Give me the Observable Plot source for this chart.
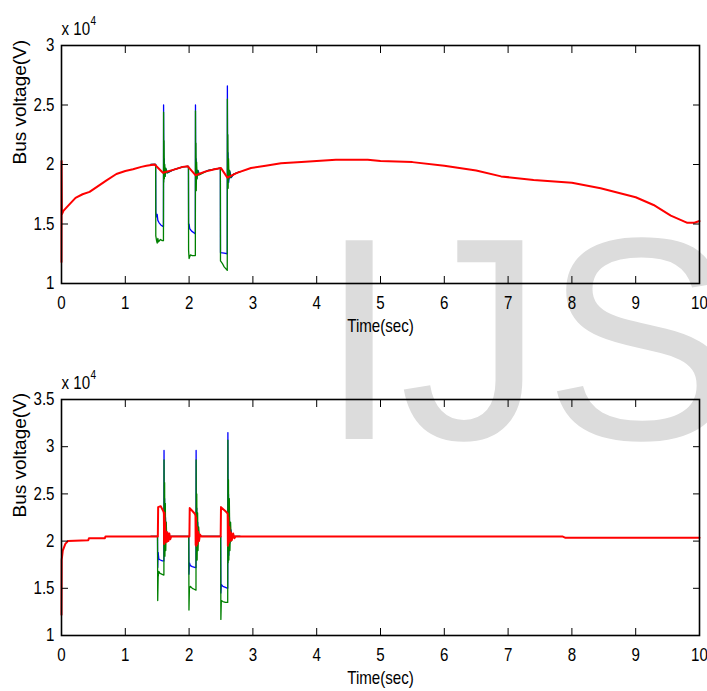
<!DOCTYPE html>
<html><head><meta charset="utf-8">
<script src="https://cdn.jsdelivr.net/npm/d3@7"></script>
<script src="https://cdn.jsdelivr.net/npm/@observablehq/plot@0.6"></script>
<style>
html,body{margin:0;padding:0;background:#fff;}
#page{position:relative;width:707px;height:691px;overflow:hidden;}
#wm{position:absolute;left:319px;top:194px;font-family:"Liberation Sans",Arial,sans-serif;font-size:289px;line-height:1;color:#dcdcdc;white-space:nowrap;z-index:0;}
#charts{position:relative;z-index:1;}
#charts svg{display:block;}
</style></head><body>
<div id="page"><div id="wm">IJS</div><div id="charts"></div></div>
<script>
// ---- tick labels ----
const xTicks = [0,1,2,3,4,5,6,7,8,9,10];
const topYTicks = [1,1.5,2,2.5,3];
const botYTicks = [1,1.5,2,2.5,3,3.5];
const xLabel = "Time(sec)";
const yLabel = "Bus voltage(V)";
const expBase = "x 10", expPow = "4";

// ---- top panel (values in units of 10^4 V) ----
const topRedT = [0,0.001,0.006,0.03,0.08,0.15,0.22,0.33,0.44,0.55,0.7,0.86,1.0,1.12,1.25,1.33,1.46,1.59,1.75,1.9,1.98,2.10,2.25,2.40,2.50,2.60,2.75,2.97,3.2,3.44,3.76,4.0,4.3,4.8,5.0,5.5,6.0,6.5,6.89,7.4,8.0,8.45,9.0,9.28,9.55,9.81,9.92,10];
const topRedV = [1.18,2.03,1.58,1.61,1.64,1.68,1.72,1.75,1.77,1.81,1.865,1.92,1.945,1.96,1.98,1.99,2.0,1.93,1.955,1.98,1.985,1.91,1.94,1.96,1.97,1.89,1.93,1.97,1.99,2.01,2.02,2.03,2.04,2.04,2.03,2.02,1.99,1.95,1.90,1.87,1.846,1.80,1.725,1.66,1.57,1.51,1.51,1.525];
const topBlueT = [1.40,1.476,1.478,1.49,1.50,1.51,1.53,1.56,1.59,1.598,1.600,1.604,1.61,1.62,1.64,1.66,1.75,1.9,1.97,1.99,1.992,2.00,2.01,2.04,2.09,2.098,2.100,2.104,2.11,2.12,2.14,2.16,2.3,2.49,2.492,2.55,2.598,2.600,2.604,2.61,2.62,2.64,2.66,2.7,2.8];
const topBlueV = [2.00,2.00,1.60,1.56,1.58,1.53,1.51,1.49,1.48,1.48,2.50,1.95,2.05,1.90,1.96,1.93,1.955,1.98,1.985,1.985,1.49,1.50,1.46,1.44,1.42,1.42,2.50,1.90,2.05,1.88,1.95,1.92,1.95,1.97,1.26,1.255,1.25,2.66,1.95,2.10,1.85,1.94,1.89,1.92,1.94];
const topGreenT = [1.40,1.476,1.478,1.49,1.50,1.51,1.52,1.55,1.58,1.598,1.600,1.603,1.607,1.612,1.618,1.625,1.635,1.65,1.75,1.9,1.99,1.992,2.00,2.02,2.05,2.098,2.100,2.103,2.107,2.112,2.118,2.125,2.135,2.15,2.3,2.49,2.492,2.52,2.55,2.598,2.600,2.603,2.607,2.612,2.618,2.625,2.635,2.65,2.7,2.8];
const topGreenV = [2.00,2.00,1.40,1.36,1.34,1.38,1.35,1.37,1.36,1.36,2.44,1.85,2.20,1.88,2.0,1.90,1.97,1.93,1.955,1.98,1.985,1.28,1.21,1.24,1.235,1.235,2.45,1.80,2.18,1.78,2.02,1.88,1.95,1.91,1.95,1.97,1.19,1.17,1.14,1.11,2.55,1.85,2.25,1.80,2.05,1.88,1.95,1.89,1.92,1.94];

// ---- bottom panel ----
const botRedT = [0,0.003,0.02,0.06,0.1,0.42,0.43,0.68,0.69,1.51,1.515,1.555,1.60,1.605,1.608,1.613,1.618,1.624,1.63,1.64,1.65,1.66,1.675,1.69,1.705,1.72,2.005,2.01,2.09,2.10,2.103,2.108,2.113,2.12,2.13,2.14,2.155,2.17,2.19,2.495,2.50,2.58,2.605,2.608,2.613,2.62,2.63,2.64,2.655,2.67,2.69,2.71,2.73,7.85,7.9,10];
const botRedV = [1.22,1.80,1.90,1.97,2.0,2.01,2.03,2.03,2.05,2.05,2.36,2.37,2.31,2.29,1.97,2.30,1.98,2.20,2.0,2.10,1.99,2.09,2.0,2.08,2.02,2.05,2.05,2.35,2.29,2.27,1.96,2.25,1.95,2.15,1.97,2.10,2.0,2.07,2.05,2.05,2.36,2.31,2.29,1.95,2.25,1.98,2.15,2.0,2.09,2.01,2.08,2.03,2.05,2.05,2.035,2.035];
const botBlueT = [1.40,1.505,1.508,1.515,1.525,1.55,1.58,1.605,1.607,1.611,1.616,1.622,1.63,1.64,1.65,1.66,1.995,1.998,2.005,2.02,2.05,2.10,2.108,2.11,2.114,2.12,2.126,2.135,2.145,2.16,2.495,2.498,2.505,2.53,2.57,2.605,2.608,2.612,2.617,2.623,2.63,2.64,2.655,2.67,2.8];
const botBlueV = [2.05,2.05,1.72,1.88,1.81,1.80,1.79,1.79,2.96,2.00,2.45,1.95,2.25,2.0,2.10,2.05,2.05,1.65,1.77,1.74,1.73,1.72,1.72,2.96,1.95,2.35,1.90,2.20,2.0,2.05,2.05,1.45,1.54,1.52,1.51,1.50,3.15,1.95,2.50,1.85,2.30,1.98,2.12,2.05,2.05];
const botGreenT = [1.40,1.505,1.508,1.515,1.525,1.54,1.57,1.605,1.607,1.611,1.616,1.621,1.627,1.634,1.642,1.65,1.66,1.995,1.998,2.005,2.02,2.05,2.08,2.108,2.11,2.114,2.12,2.126,2.133,2.14,2.15,2.16,2.495,2.498,2.505,2.53,2.57,2.605,2.608,2.612,2.617,2.623,2.63,2.64,2.65,2.66,2.67,2.8];
const botGreenV = [2.05,2.05,1.37,1.62,1.68,1.66,1.65,1.64,2.86,1.85,2.62,1.84,2.40,1.90,2.20,2.0,2.05,2.05,1.27,1.50,1.52,1.50,1.49,1.48,2.86,1.80,2.50,1.80,2.30,1.90,2.15,2.05,2.05,1.17,1.37,1.36,1.35,1.35,3.07,1.77,2.65,1.80,2.45,1.90,2.20,2.0,2.05,2.05];

const FONT = '"Liberation Sans",Arial,sans-serif';
const fmt = d => String(d);

function panel({yDomain, yTicks, red, blue, green, height, marginTop, marginBottom}) {
  const line = (s, stroke, w) => Plot.line(s[1], {x: s[0], y: s[1], stroke, strokeWidth: w, strokeLinejoin: "round"});
  const svg = Plot.plot({
    width: 707, height, marginLeft: 61, marginRight: 8, marginTop, marginBottom,
    x: {domain: [0, 10]},
    y: {domain: yDomain},
    style: {background: "transparent", fontFamily: FONT, fontSize: "18px", color: "black", overflow: "visible"},
    marks: [
      line(blue, "#0000ff", 1.3),
      line(green, "#008000", 1.3),
      line(red, "#ff0000", 2),
      Plot.frame({stroke: "black", strokeWidth: 1.6}),
      // inward ticks on all four sides
      Plot.axisX(xTicks, {anchor: "bottom", tickSize: 7, dy: -7, fill: "none", label: null}),
      Plot.axisX(xTicks, {anchor: "top", tickSize: 7, dy: 7, fill: "none", label: null}),
      Plot.axisY(yTicks, {anchor: "left", tickSize: 7, dx: 7, fill: "none", label: null}),
      Plot.axisY(yTicks, {anchor: "right", tickSize: 7, dx: -7, fill: "none", label: null}),
      // tick labels
      Plot.axisX(xTicks, {anchor: "bottom", tickSize: 0, tickPadding: 13, label: null, tickFormat: fmt, fontSize: 18}),
      Plot.axisY(yTicks, {anchor: "left", tickSize: 0, tickPadding: 7, label: null, tickFormat: fmt, fontSize: 18}),
      // axis titles
      Plot.text([xLabel], {frameAnchor: "bottom", dy: 48, fontSize: 18}),
      Plot.text([yLabel], {frameAnchor: "left", rotate: -90, dx: -42, fontSize: 19}),
      Plot.text([expBase], {frameAnchor: "top-left", textAnchor: "start", lineAnchor: "bottom", dx: 0, dy: -11, fontSize: 18}),
      Plot.text([expPow], {frameAnchor: "top-left", textAnchor: "start", lineAnchor: "bottom", dx: 29, dy: -21, fontSize: 12})
    ]
  });
  // narrow the horizontal texts like the reference's condensed lettering
  d3.select(svg).selectAll("text").each(function() {
    if (this.textContent === yLabel) return;
    const t = this.getAttribute("transform") || "";
    const xa = this.getAttribute("x");
    let extra = "";
    if (xa !== null && /^-?[\d.]+$/.test(xa)) { extra = ` translate(${xa},0)`; this.setAttribute("x", 0); }
    this.setAttribute("transform", `${t}${extra} scale(0.84,1)`);
  });
  return svg;
}

const charts = document.getElementById("charts");
charts.append(panel({
  yDomain: [1, 3], yTicks: topYTicks,
  red: [topRedT, topRedV], blue: [topBlueT, topBlueV], green: [topGreenT, topGreenV],
  height: 345, marginTop: 45, marginBottom: 62
}));
charts.append(panel({
  yDomain: [1, 3.5], yTicks: botYTicks,
  red: [botRedT, botRedV], blue: [botBlueT, botBlueV], green: [botGreenT, botGreenV],
  height: 346, marginTop: 54, marginBottom: 56
}));
</script>
</body></html>
